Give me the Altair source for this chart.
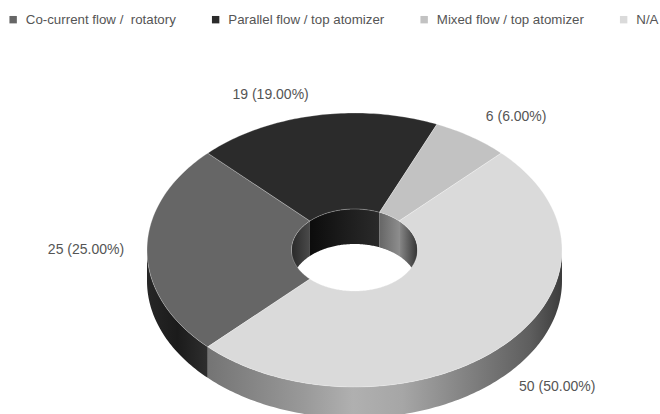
import math
import altair as alt

# Dataset: dryer configurations
categories = ["Co-current flow /\u00a0 rotatory", "Parallel flow / top atomizer", "Mixed flow / top atomizer", "N/A"]
counts = [25, 19, 6, 50]
top_colors = ["#666666", "#2b2b2b", "#c2c2c2", "#dadada"]

# Ring geometry, in pixels on the identity projection
CX, CY = 354.5, 250
RX, RY = 207.5, 137
HOLE_RX, HOLE_RY = 63, 41
DEPTH = 31
HOLE_DEPTH = 35
START_ANGLE = 225  # degrees clockwise from north

# Wall shading for each slice: (offset, colour) stops running left to right
outer_shades = {
    0: [(0, "#262626"), (0.5, "#1b1b1b"), (1, "#2e2e2e")],
    3: [(0, "#747474"), (0.27, "#999999"), (0.41, "#b0b0b0"), (0.55, "#a6a6a6"),
        (0.74, "#808080"), (0.91, "#5e5e5e"), (1, "#3c3c3c")],
}
inner_shades = {
    0: [(0, "#2a2a2a"), (1, "#4a4a4a")],
    1: [(0, "#0c0c0c"), (0.5, "#1c1c1c"), (1, "#2a2a2a")],
    2: [(0, "#666666"), (1, "#8c8c8c")],
    3: [(0, "#8a8a8a"), (1, "#333333")],
}

# Label placement relative to the rim at each slice's middle angle
label_nudges = [(-61, 0), (-45, -20), (45, -20), (56, 40)]

total = sum(counts)
spans = []
angle = START_ANGLE
for n in counts:
    sweep = n / total * 360
    spans.append((angle, angle + sweep))
    angle += sweep


def rim(theta, rx, ry, drop=0.0):
    t = math.radians(theta)
    return [CX + rx * math.sin(t), CY - ry * math.cos(t) + drop]


def arc(a, b, rx, ry, drop=0.0):
    steps = max(2, int(abs(b - a)))
    return [rim(a + (b - a) * i / steps, rx, ry, drop) for i in range(steps + 1)]


def feature(ring, **props):
    ring = ring + [ring[0]]
    return {"type": "Feature", "properties": props,
            "geometry": {"type": "Polygon", "coordinates": [ring]}}


def wall(a, b, rx, ry, depth):
    return feature(arc(a, b, rx, ry) + arc(a, b, rx, ry, depth)[::-1])


def overlap(span, lo, hi):
    # A slice's part within a window, also trying the window one turn later
    for shift in (0, 360):
        a, b = max(span[0], lo + shift), min(span[1], hi + shift)
        if b > a:
            return a, b
    return None


projection = alt.Projection(type="identity", scale=1, translate=[0, 0])


def wall_layer(a, b, rx, ry, depth, stops):
    gradient = alt.LinearGradient(
        gradient="linear", x1=0, x2=1, y1=0, y2=0,
        stops=[alt.GradientStop(offset=o, color=c) for o, c in stops],
    )
    return (
        alt.Chart(alt.Data(values=[wall(a, b, rx, ry, depth)]))
        .mark_geoshape(fill=gradient, stroke=None)
        .project(**projection.to_dict())
    )


layers = []

# Visible part of the outer wall: the front half of the ring
for i, stops in outer_shades.items():
    part = overlap(spans[i], 90, 270)
    if part:
        layers.append(wall_layer(*part, RX, RY, DEPTH, stops))

# Visible part of the inner wall: the back half of the hole
for i, stops in inner_shades.items():
    part = overlap(spans[i], 270, 450)
    if part:
        layers.append(wall_layer(*part, HOLE_RX, HOLE_RY, HOLE_DEPTH, stops))

# Top faces of the ring, coloured by category
tops = [
    feature(arc(a, b, RX, RY) + arc(a, b, HOLE_RX, HOLE_RY)[::-1], name=name)
    for (a, b), name in zip(spans, categories)
]
layers.append(
    alt.Chart(alt.Data(values=tops))
    .mark_geoshape(stroke="#ffffff", strokeWidth=0.6, strokeOpacity=0.45)
    .encode(
        color=alt.Color(
            "properties.name:N",
            scale=alt.Scale(domain=categories, range=top_colors),
            sort=categories,
            legend=alt.Legend(
                title=None, orient="none", legendX=6.5, legendY=13, direction="horizontal",
                columns=4, columnPadding=32.5, symbolType="square", symbolSize=55,
                symbolStrokeWidth=0, labelFont="Liberation Sans", labelFontSize=13.3,
                labelColor="#555555", labelOffset=6, labelLimit=300,
            ),
        )
    )
    .project(**projection.to_dict())
)

# Value labels beside the rim
labels = []
for (a, b), n, (dx, dy) in zip(spans, counts, label_nudges):
    x, y = rim((a + b) / 2, RX, RY)
    labels.append({"lon": x + dx, "lat": y + dy, "text": f"{n} ({n / total * 100:.2f}%)"})
layers.append(
    alt.Chart(alt.Data(values=labels))
    .mark_text(font="Liberation Sans", fontSize=14, color="#555555", align="center", baseline="middle")
    .encode(longitude="lon:Q", latitude="lat:Q", text="text:N")
    .project(**projection.to_dict())
)

chart = (
    alt.layer(*layers)
    .properties(width=660, height=414, padding=0, autosize=alt.AutoSizeParams(type="none"))
    .configure_view(stroke=None)
)

chart.save("out.html", embed_options={"renderer": "svg", "actions": False})
